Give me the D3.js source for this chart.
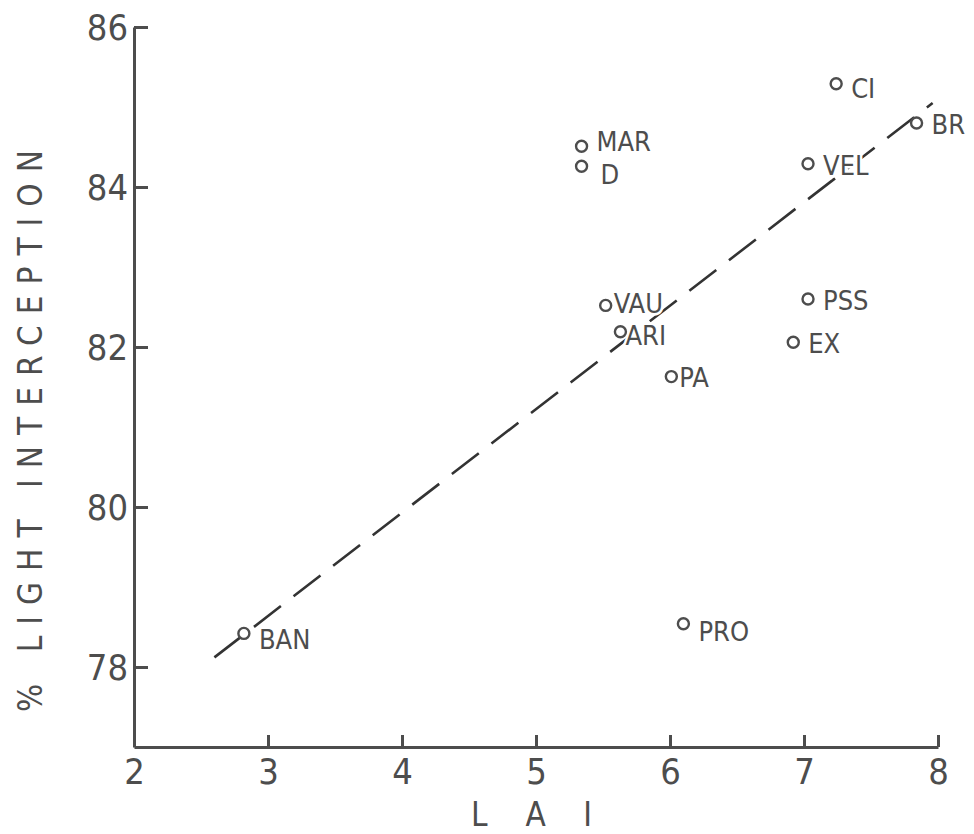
<!DOCTYPE html>
<html lang="en">
<head>
  <meta charset="UTF-8">
  <title>LAI vs light interception</title>
  <style>
    body { margin: 0; background: #fff; }
    text { font-family: "DejaVu Sans Condensed", "DejaVu Sans", sans-serif; fill: #4d4d4d; }
  </style>
</head>
<body>
  <div id="svg"></div>
</body>
<script src="https://cdn.jsdelivr.net/npm/d3@7"></script>
<script type="text/javascript">
  // varieties, LAI and % light interception
  const names = ["BAN", "MAR", "D", "VAU", "ARI", "PA", "CI", "BR", "VEL", "PSS", "EX", "PRO"]
  const lai = [2.82, 5.34, 5.34, 5.52, 5.63, 6.01, 7.24, 7.84, 7.03, 7.03, 6.92, 6.10]
  const light = [78.42, 84.51, 84.26, 82.52, 82.19, 81.63, 85.29, 84.80, 84.29, 82.60, 82.06, 78.54]

  // dashed regression line, two ends
  const fitX = [2.6, 7.96]
  const fitY = [78.12, 85.05]

  const xTicks = [2, 3, 4, 5, 6, 7, 8]
  const yTicks = [78, 80, 82, 84, 86]

  // label nudges (px) beside each circle
  const labelDx = { VAU: 8, ARI: 5, PA: 8, D: 19 }
  const labelDy = { BAN: 6, D: 8, CI: 4, PRO: 7, MAR: -5, VAU: -2, ARI: 3 }

  const width = 974
  const height = 834
  const ink = "#4d4d4d"

  const svg = d3.select("#svg").append("svg").attr("width", width).attr("height", height)

  const x = d3.scaleLinear().domain([2, 8]).range([134, 938])
  const y = d3.scaleLinear().domain([77, 86]).range([747, 27])

  // dashed fit line
  svg.append("path")
    .datum(d3.zip(fitX, fitY))
    .attr("d", d3.line().x(d => x(d[0])).y(d => y(d[1])))
    .attr("fill", "none")
    .attr("stroke", "#333")
    .attr("stroke-width", 2.6)
    .attr("stroke-dasharray", "34 16")

  // x axis, ticks pointing up
  const xAxis = svg.append("g").attr("transform", `translate(0,${y(77)})`)
    .call(d3.axisBottom(x).tickValues(xTicks).tickFormat(d3.format("d"))
      .tickSizeInner(-12).tickSizeOuter(0).tickPadding(11))
  // y axis, ticks pointing right
  const yAxis = svg.append("g").attr("transform", `translate(${x(2)},0)`)
    .call(d3.axisLeft(y).tickValues(yTicks).tickFormat(d3.format("d"))
      .tickSizeInner(-14).tickSizeOuter(0).tickPadding(6))

  for (const g of [xAxis, yAxis]) {
    g.select(".domain").attr("stroke", ink).attr("stroke-width", 3)
    g.selectAll(".tick line").attr("stroke", ink).attr("stroke-width", 3)
    g.selectAll(".tick text").attr("fill", ink).style("font-size", "36px")
      .style("font-family", '"DejaVu Sans Condensed", "DejaVu Sans", sans-serif')
  }
  xAxis.selectAll(".tick").filter(d => d === 2).select("line").remove()
  xAxis.selectAll(".tick text").attr("dy", "0.71em")
  yAxis.selectAll(".tick text").attr("dy", "0.36em")

  // points
  const pts = d3.range(names.length).map(i => ({ name: names[i], lai: lai[i], li: light[i] }))

  // labels first with white halo, so they cut the dashed line
  svg.append("g").selectAll("text").data(pts).enter().append("text")
    .attr("x", d => x(d.lai) + (labelDx[d.name] ?? 15))
    .attr("y", d => y(d.li) + (labelDy[d.name] ?? 1))
    .attr("dy", "0.36em")
    .style("font-size", "27px")
    .attr("stroke", "#fff")
    .attr("stroke-width", 5)
    .attr("paint-order", "stroke")
    .text(d => d.name)

  svg.append("g").selectAll("circle").data(pts).enter().append("circle")
    .attr("cx", d => x(d.lai))
    .attr("cy", d => y(d.li))
    .attr("r", 5.5)
    .attr("fill", "#fff")
    .attr("stroke", ink)
    .attr("stroke-width", 2.4)

  // axis titles
  svg.append("text")
    .attr("x", 471).attr("y", 826)
    .attr("textLength", 121).attr("lengthAdjust", "spacing")
    .style("font-size", "33px")
    .text("LAI")

  svg.append("text")
    .attr("transform", "translate(42,712) rotate(-90)")
    .attr("textLength", 562).attr("lengthAdjust", "spacing")
    .style("font-size", "33px")
    .text("% LIGHT INTERCEPTION")
</script>
</html>
